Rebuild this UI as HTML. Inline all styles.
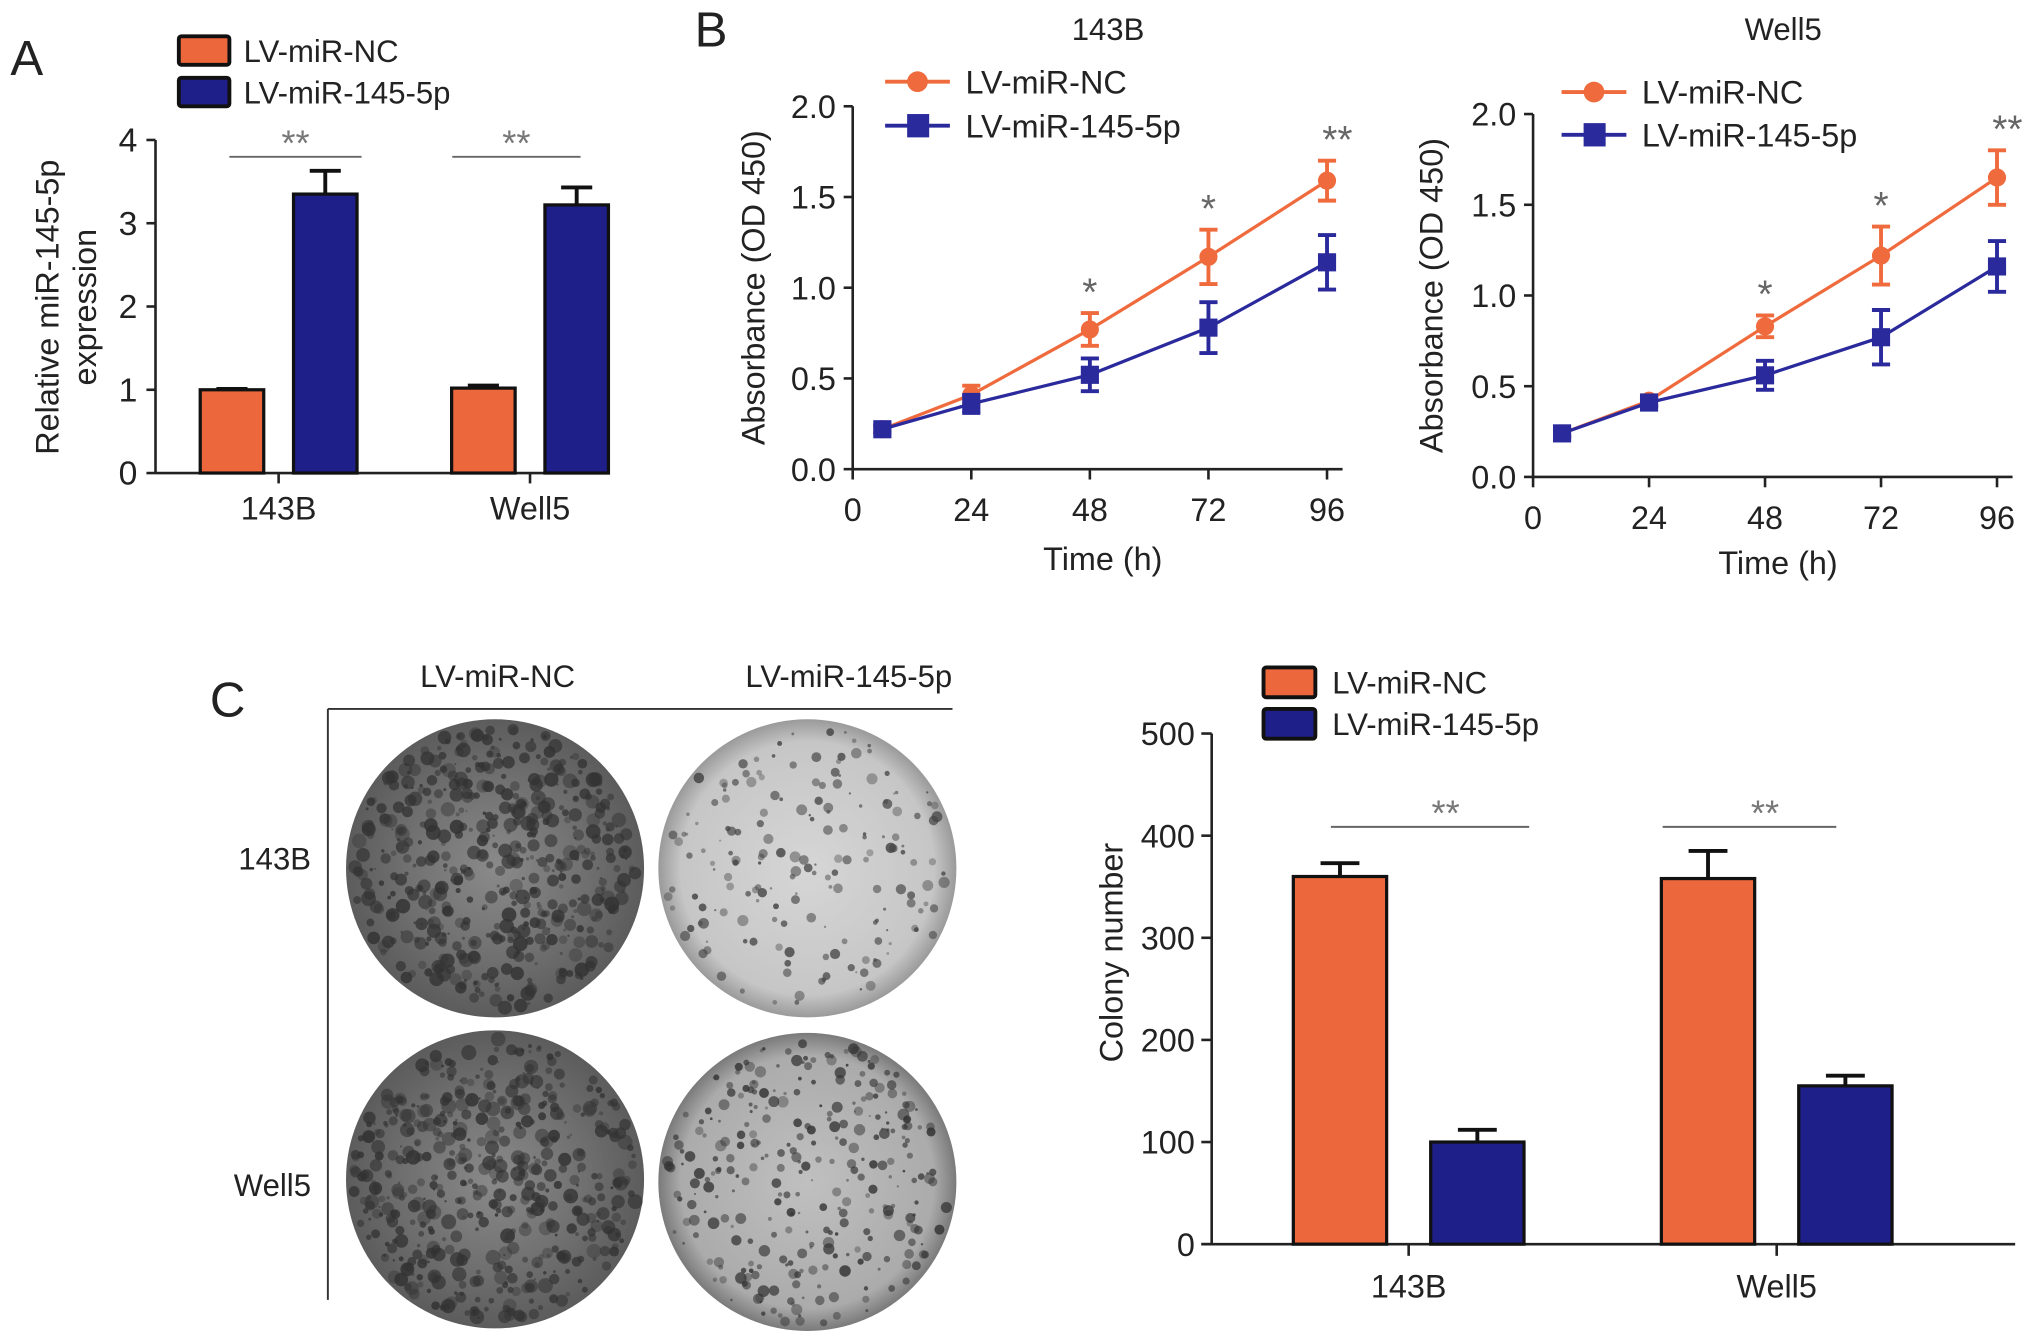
<!DOCTYPE html>
<html><head><meta charset="utf-8"><style>
html,body{margin:0;padding:0;background:#fff}
svg{display:block}
text{font-family:"Liberation Sans",Arial,sans-serif;fill:#222}
</style></head><body>
<svg id="fig" width="2032" height="1331" viewBox="0 0 1568 1027" preserveAspectRatio="none" xmlns="http://www.w3.org/2000/svg">
<defs>
<radialGradient id="dishDark" cx="50%" cy="50%" r="50%"><stop offset="0" stop-color="#8a8a8a"/><stop offset="0.6" stop-color="#707070"/><stop offset="1" stop-color="#5c5c5c"/></radialGradient>
<radialGradient id="dishLight" cx="50%" cy="50%" r="50%"><stop offset="0" stop-color="#d6d6d6"/><stop offset="0.85" stop-color="#c6c6c6"/><stop offset="1" stop-color="#9a9a9a"/></radialGradient>
<radialGradient id="dishMid" cx="50%" cy="50%" r="50%"><stop offset="0" stop-color="#c0c0c0"/><stop offset="0.85" stop-color="#ababab"/><stop offset="1" stop-color="#7a7a7a"/></radialGradient>
</defs>
<g id="root"></g>
</svg>
<script>
// ---- Panel A data ----
const aCategories = ["143B", "Well5"];
const aNC = [1.0, 1.02];
const aNCerr = [0.01, 0.03];
const aMiR = [3.35, 3.22];
const aMiRerr = [0.28, 0.21];
const aTicks = [0, 1, 2, 3, 4];
// ---- Panel B data ----
const bTimes = [6, 24, 48, 72, 96];
const bTicksX = [0, 24, 48, 72, 96];
const bTicksY = [0.0, 0.5, 1.0, 1.5, 2.0];
const b143NC = [0.22, 0.41, 0.77, 1.17, 1.59];
const b143NCerr = [0.02, 0.05, 0.09, 0.15, 0.11];
const b143MiR = [0.22, 0.36, 0.52, 0.78, 1.14];
const b143MiRerr = [0.02, 0.05, 0.09, 0.14, 0.15];
const b143Stars = ["", "", "*", "*", "**"];
const bW5NC = [0.24, 0.42, 0.83, 1.22, 1.65];
const bW5NCerr = [0.02, 0.03, 0.06, 0.16, 0.15];
const bW5MiR = [0.24, 0.41, 0.56, 0.77, 1.16];
const bW5MiRerr = [0.02, 0.02, 0.08, 0.15, 0.14];
const bW5Stars = ["", "", "*", "*", "**"];
// ---- Panel C data ----
const cCategories = ["143B", "Well5"];
const cNC = [360, 358];
const cNCerr = [13, 27];
const cMiR = [100, 155];
const cMiRerr = [12, 10];
const cTicks = [0, 100, 200, 300, 400, 500];

const NS = "http://www.w3.org/2000/svg";
const root = document.getElementById("root");
const OR = "#ec673c", BL = "#1f1f8a", LOR = "#ef6a3c", LBL = "#2a2a9c";
function mk(tag, attrs, parent, txt) {
  const e = document.createElementNS(NS, tag);
  for (const k in attrs) e.setAttribute(k, attrs[k]);
  if (txt !== undefined) e.textContent = txt;
  (parent || root).appendChild(e);
  return e;
}
function grp(name) {
  const g = mk("g", {});
  
  
  return g;
}

// ================= Panel A =================
(function () {
  const g = grp("panel-a");
  const x0 = 120, yBase = 365, yTop = 108, xEnd = 440;
  const y = v => yBase - (v - 0) / 4 * (yBase - yTop);
  const catX = [215, 409], bw = 49, off = 36;
  const sig = [[177, 279], [349, 448]];
  let t = mk("text", { x: 8, y: 58, "font-size": 38 }, g, "A");
   
  [[OR, "LV-miR-NC", 28], [BL, "LV-miR-145-5p", 60]].forEach(([c, s, yy]) => {
    const r = mk("rect", { x: 138, y: yy, width: 39, height: 22, fill: c, stroke: "#111", "stroke-width": 3, rx: 2 }, g);
     
    const tt = mk("text", { x: 188, y: yy + 20, "font-size": 24 }, g, s);
     
  });
  mk("line", { x1: x0, y1: yTop, x2: x0, y2: yBase, stroke: "#222", "stroke-width": 2 }, g);
  mk("line", { x1: x0, y1: yBase, x2: xEnd, y2: yBase, stroke: "#222", "stroke-width": 2 }, g);
  aTicks.forEach(v => {
    mk("line", { x1: x0 - 7, y1: y(v), x2: x0, y2: y(v), stroke: "#222", "stroke-width": 2 }, g);
    const tl = mk("text", { x: 106, y: y(v) + 9, "font-size": 26, "text-anchor": "end" }, g, v);
     
  });
  const yt = mk("text", { transform: "translate(45,237) rotate(-90)", "font-size": 25, "text-anchor": "middle" }, g, "Relative miR-145-5p");
   
  mk("text", { transform: "translate(74,237) rotate(-90)", "font-size": 25, "text-anchor": "middle" }, g, "expression");
  aCategories.forEach((c, i) => {
    const cx = catX[i];
    mk("line", { x1: cx, y1: yBase, x2: cx, y2: yBase + 8, stroke: "#222", "stroke-width": 2 }, g);
    const cl = mk("text", { x: cx, y: 401, "font-size": 25, "text-anchor": "middle" }, g, c);
     
    [[aNC, aNCerr, OR, cx - off], [aMiR, aMiRerr, BL, cx + off]].forEach(([vals, errs, col, bx]) => {
      const v = vals[i], e = errs[i];
      mk("line", { x1: bx, y1: y(v), x2: bx, y2: y(v + e), stroke: "#111", "stroke-width": 3 }, g);
      mk("line", { x1: bx - 12, y1: y(v + e), x2: bx + 12, y2: y(v + e), stroke: "#111", "stroke-width": 3 }, g);
      const b = mk("rect", { x: bx - bw / 2, y: y(v), width: bw, height: yBase - y(v), fill: col, stroke: "#111", "stroke-width": 2.5 }, g);
       
    });
    mk("line", { x1: sig[i][0], y1: 121, x2: sig[i][1], y2: 121, stroke: "#666", "stroke-width": 1.5 }, g);
    mk("text", { x: (sig[i][0] + sig[i][1]) / 2, y: 120, "font-size": 28, "text-anchor": "middle", style: "fill:#777" }, g, "**");
  });
})();

// ================= Panel B =================
function linePanel(name, title, titleX, x0, yBase, yTop, xTicksPx, nc, ncE, mi, miE, stars, legY, legX, ylabX, xlabY) {
  const g = grp(name);
  const pxPerH = (xTicksPx[1] - xTicksPx[0]) / 24;
  const X = h => x0 + (h - bTicksX[0]) * pxPerH;
  const Y = v => yBase - v / 2 * (yBase - yTop);
  const tt = mk("text", { x: titleX, y: 31, "font-size": 24, "text-anchor": "middle" }, g, title);
   
  mk("line", { x1: x0, y1: yTop, x2: x0, y2: yBase, stroke: "#222", "stroke-width": 2 }, g);
  mk("line", { x1: x0, y1: yBase, x2: X(96) + 12, y2: yBase, stroke: "#222", "stroke-width": 2 }, g);
  bTicksY.forEach(v => {
    mk("line", { x1: x0 - 7, y1: Y(v), x2: x0, y2: Y(v), stroke: "#222", "stroke-width": 2 }, g);
    const l = mk("text", { x: x0 - 13, y: Y(v) + 9, "font-size": 25, "text-anchor": "end" }, g, v.toFixed(1));
     
  });
  bTicksX.forEach(h => {
    mk("line", { x1: X(h), y1: yBase, x2: X(h), y2: yBase + 8, stroke: "#222", "stroke-width": 2 }, g);
    const l = mk("text", { x: X(h), y: yBase + 40, "font-size": 25, "text-anchor": "middle" }, g, h);
     
  });
  const yl = mk("text", { transform: `translate(${ylabX},${(yTop + yBase) / 2}) rotate(-90)`, "font-size": 25, "text-anchor": "middle" }, g, "Absorbance (OD 450)");
   
  const xl = mk("text", { x: X(48) + 10, y: xlabY, "font-size": 25, "text-anchor": "middle" }, g, "Time (h)");
   
  [[nc, ncE, LOR, "circle"], [mi, miE, LBL, "square"]].forEach(([vals, errs, col, shape]) => {
    const pts = bTimes.map((h, i) => X(h) + "," + Y(vals[i])).join(" ");
    const pl = mk("polyline", { points: pts, fill: "none", stroke: col, "stroke-width": 2.5 }, g);
     
    bTimes.forEach((h, i) => {
      const cx = X(h), v = vals[i], e = errs[i];
      mk("line", { x1: cx, y1: Y(v - e), x2: cx, y2: Y(v + e), stroke: col, "stroke-width": 3 }, g);
      mk("line", { x1: cx - 7, y1: Y(v + e), x2: cx + 7, y2: Y(v + e), stroke: col, "stroke-width": 3 }, g);
      mk("line", { x1: cx - 7, y1: Y(v - e), x2: cx + 7, y2: Y(v - e), stroke: col, "stroke-width": 3 }, g);
      let m;
      if (shape === "circle") m = mk("circle", { cx: cx, cy: Y(v), r: 7, fill: col }, g);
      else m = mk("rect", { x: cx - 7, y: Y(v) - 7, width: 14, height: 14, fill: col }, g);
       
    });
  });
  bTimes.forEach((h, i) => {
    if (!stars[i]) return;
    const top = Y(nc[i] + ncE[i]) - 6;
    const s = mk("text", { x: X(h) + (stars[i] === "**" ? 8 : 0), y: top, "font-size": 30, "text-anchor": "middle", style: "fill:#666" }, g, stars[i]);
     
  });
  [[LOR, "circle", "LV-miR-NC", legY[0]], [LBL, "square", "LV-miR-145-5p", legY[1]]].forEach(([col, shape, s, yy]) => {
    mk("line", { x1: legX, y1: yy, x2: legX + 50, y2: yy, stroke: col, "stroke-width": 3 }, g);
    if (shape === "circle") mk("circle", { cx: legX + 25, cy: yy, r: 8, fill: col }, g);
    else mk("rect", { x: legX + 17, y: yy - 9, width: 17, height: 18, fill: col }, g);
    const l = mk("text", { x: legX + 62, y: yy + 9, "font-size": 25 }, g, s);
     
  });
  return g;
}
(function () {
  const t = mk("text", { x: 536, y: 36, "font-size": 38 }, root, "B");
   
})();
linePanel("panel-b-143b", "143B", 855, 658, 362, 82, [658, 749.5], b143NC, b143NCerr, b143MiR, b143MiRerr, b143Stars, [63, 97], 683, 590, 440);
linePanel("panel-b-well5", "Well5", 1376, 1183, 368, 88, [1183, 1272.5], bW5NC, bW5NCerr, bW5MiR, bW5MiRerr, bW5Stars, [71, 104], 1205, 1113, 443);

// ================= Panel C dishes =================
(function () {
  const g = grp("panel-c-colony-images");
  const t = mk("text", { x: 162, y: 553, "font-size": 38 }, g, "C");
   
  mk("text", { x: 384, y: 530, "font-size": 24, "text-anchor": "middle" }, g, "LV-miR-NC");
  mk("text", { x: 655, y: 530, "font-size": 24, "text-anchor": "middle" }, g, "LV-miR-145-5p");
  mk("line", { x1: 253, y1: 547, x2: 735, y2: 547, stroke: "#333", "stroke-width": 1.5 }, g);
  mk("line", { x1: 253, y1: 547, x2: 253, y2: 1003, stroke: "#333", "stroke-width": 1.5 }, g);
  mk("text", { x: 240, y: 671, "font-size": 24, "text-anchor": "end" }, g, "143B");
  mk("text", { x: 240, y: 923, "font-size": 24, "text-anchor": "end" }, g, "Well5");
  const dishes = [[382, 670, "dishDark", 520, 5, "#333"], [623, 670, "dishLight", 180, 3.5, "#444"], [382, 910, "dishDark", 520, 5, "#333"], [623, 912, "dishMid", 300, 3.8, "#333"]];
  let seed = 7;
  const rnd = () => { seed = (seed * 16807) % 2147483647; return seed / 2147483647; };
  dishes.forEach(([cx, cy, fillId, n, rmax, col]) => {
    const c = mk("circle", { cx: cx, cy: cy, r: 115, fill: `url(#${fillId})` }, g);
     
    for (let i = 0; i < n; i++) {
      const a = rnd() * Math.PI * 2, rr = Math.sqrt(rnd()) * 110;
      mk("circle", { cx: cx + Math.cos(a) * rr, cy: cy + Math.sin(a) * rr, r: 0.8 + rnd() * rmax, fill: col, opacity: 0.35 + rnd() * 0.5 }, g);
    }
  });
})();

// ================= Panel C bar chart =================
(function () {
  const g = grp("panel-c-colony-chart");
  const x0 = 935, yBase = 960, yTop = 566, xEnd = 1555;
  const y = v => yBase - v / 500 * (yBase - yTop);
  const catX = [1087, 1371], bw = 72, off = 53;
  const sig = [[1027, 1180], [1283, 1417]];
  [[OR, "LV-miR-NC", 515], [BL, "LV-miR-145-5p", 547]].forEach(([c, s, yy]) => {
    const r = mk("rect", { x: 975, y: yy, width: 40, height: 23, fill: c, stroke: "#111", "stroke-width": 3, rx: 2 }, g);
     
    const tt = mk("text", { x: 1028, y: yy + 20, "font-size": 24 }, g, s);
     
  });
  mk("line", { x1: x0, y1: yTop, x2: x0, y2: yBase, stroke: "#222", "stroke-width": 2 }, g);
  mk("line", { x1: x0 - 8, y1: yBase, x2: xEnd, y2: yBase, stroke: "#222", "stroke-width": 2 }, g);
  cTicks.forEach(v => {
    mk("line", { x1: x0 - 8, y1: y(v), x2: x0, y2: y(v), stroke: "#222", "stroke-width": 2 }, g);
    const l = mk("text", { x: 922, y: y(v) + 9, "font-size": 25, "text-anchor": "end" }, g, v);
     
  });
  const yt = mk("text", { transform: "translate(866,735) rotate(-90)", "font-size": 25, "text-anchor": "middle" }, g, "Colony number");
   
  cCategories.forEach((c, i) => {
    const cx = catX[i];
    mk("line", { x1: cx, y1: yBase, x2: cx, y2: yBase + 9, stroke: "#222", "stroke-width": 2 }, g);
    const cl = mk("text", { x: cx, y: 1001, "font-size": 25, "text-anchor": "middle" }, g, c);
     
    [[cNC, cNCerr, OR, cx - off], [cMiR, cMiRerr, BL, cx + off]].forEach(([vals, errs, col, bx]) => {
      const v = vals[i], e = errs[i];
      mk("line", { x1: bx, y1: y(v), x2: bx, y2: y(v + e), stroke: "#111", "stroke-width": 3 }, g);
      mk("line", { x1: bx - 15, y1: y(v + e), x2: bx + 15, y2: y(v + e), stroke: "#111", "stroke-width": 3 }, g);
      const b = mk("rect", { x: bx - bw / 2, y: y(v), width: bw, height: yBase - y(v), fill: col, stroke: "#111", "stroke-width": 2.5 }, g);
       
    });
    mk("line", { x1: sig[i][0], y1: 638, x2: sig[i][1], y2: 638, stroke: "#666", "stroke-width": 1.5 }, g);
    mk("text", { x: (sig[i][0] + sig[i][1]) / 2 + 12, y: 637, "font-size": 28, "text-anchor": "middle", style: "fill:#777" }, g, "**");
  });
})();
</script>
</body></html>
